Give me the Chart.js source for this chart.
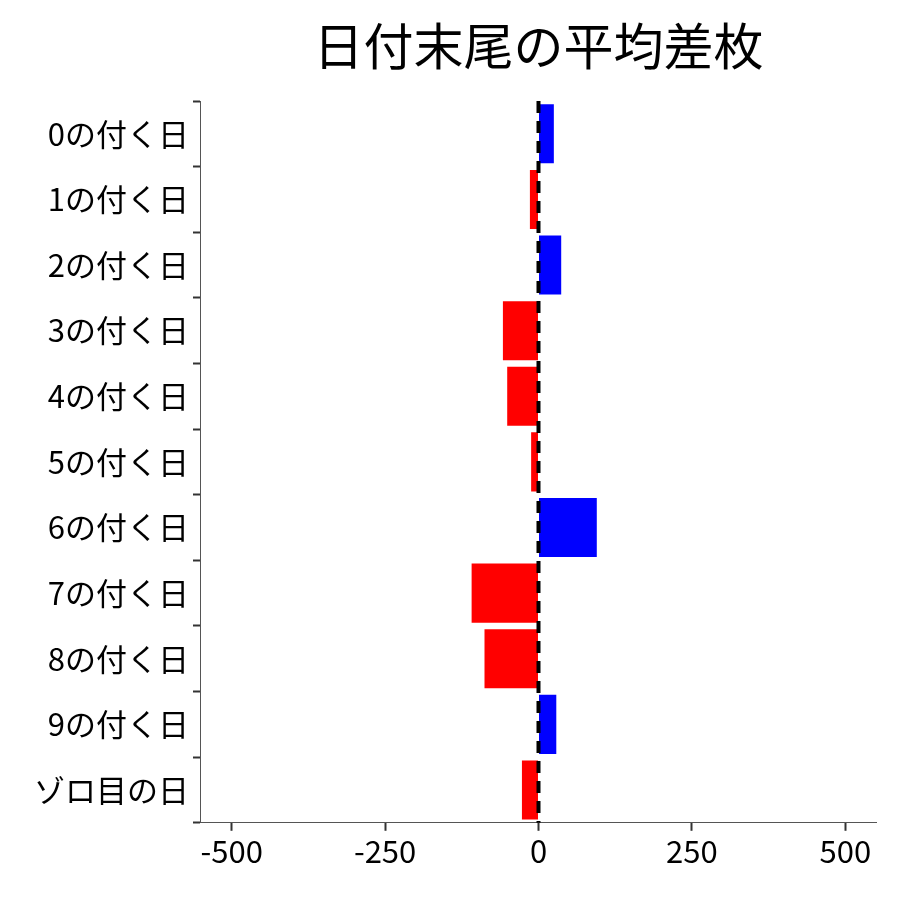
<!DOCTYPE html>
<html><head><meta charset="utf-8">
<script src="https://cdn.jsdelivr.net/npm/chart.js@4"></script>
<style>body{margin:0;background:#fff}#w{width:900px;height:900px}</style>
</head><body><div id="w"><canvas id="c"></canvas></div>
<script>
const categories = ["0の付く日","1の付く日","2の付く日","3の付く日","4の付く日","5の付く日","6の付く日","7の付く日","8の付く日","9の付く日","ゾロ目の日"];
const values = [25,-14,37,-58,-51,-12,95,-109,-88,29,-27];
const xTicks = [-500,-250,0,250,500];
const titleText = '日付末尾の平均差枚';
const FONT = "'Noto Sans CJK JP','Noto Sans',sans-serif";
const extras = {id:'extras',afterDatasetsDraw(ch){
  const x=ch.scales.x.getPixelForValue(0), a=ch.chartArea, c=ch.ctx;
  c.save();c.strokeStyle='#000';c.lineWidth=4;c.setLineDash([12,8]);
  c.beginPath();c.moveTo(x,a.top);c.lineTo(x,a.bottom);c.stroke();c.restore();
  c.save();c.fillStyle='#000';c.font="50px "+FONT;c.textAlign='center';c.textBaseline='middle';
  c.fillText(titleText,(a.left+a.right)/2,46);c.restore();}};
new Chart(document.getElementById('c'),{
  type:'bar',
  data:{labels:categories,datasets:[{data:values,
    backgroundColor:values.map(v=>v>=0?'#0000ff':'#ff0000'),
    barPercentage:0.9,categoryPercentage:1}]},
  options:{indexAxis:'y',responsive:true,maintainAspectRatio:false,animation:false,
    layout:{padding:{left:30,right:24,top:101,bottom:28}},
    plugins:{legend:{display:false},tooltip:{enabled:false},title:{display:false}},
    scales:{
      x:{min:-550,max:550,afterBuildTicks(s){s.ticks=xTicks.map(v=>({value:v}));},
        grid:{display:true,drawOnChartArea:false,drawTicks:true,tickLength:8,tickColor:'#333',tickWidth:2},
        border:{color:'#555',width:1},
        ticks:{color:'#000',font:{family:FONT,size:31},padding:2}},
      y:{grid:{display:true,drawOnChartArea:false,drawTicks:true,tickLength:8,tickColor:'#333',tickWidth:2},
        border:{color:'#555',width:1},
        ticks:{color:'#000',font:{family:FONT,size:31},padding:4}}
    }},
  plugins:[extras]
});
</script></body></html>
